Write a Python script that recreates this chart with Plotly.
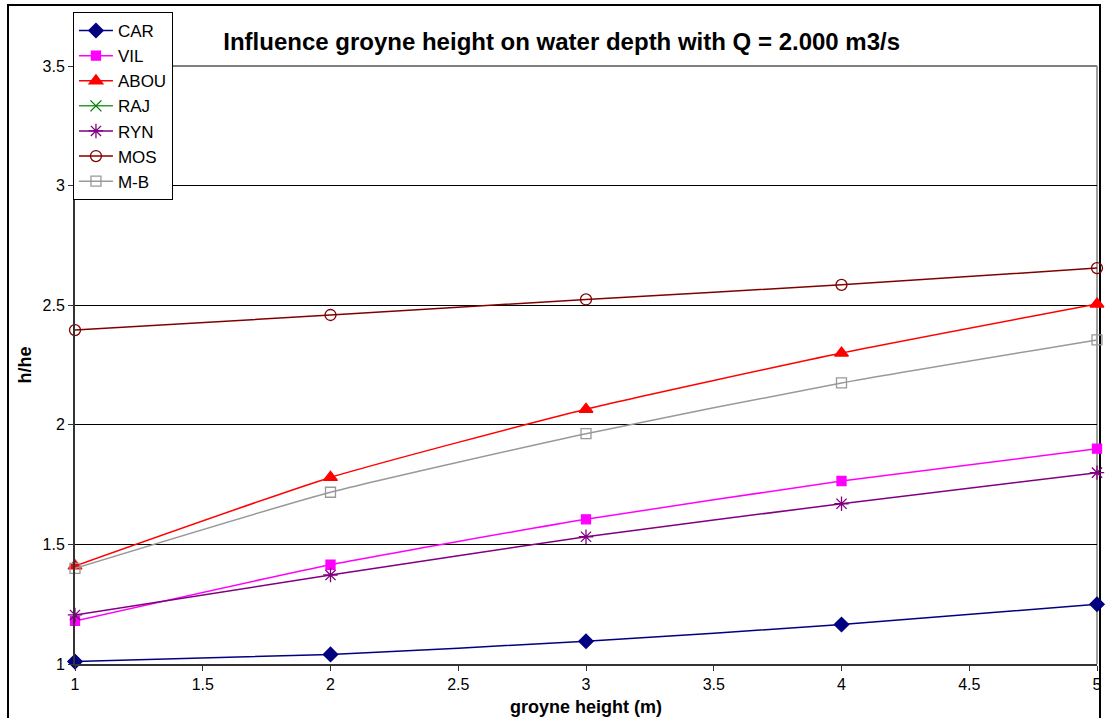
import plotly.graph_objects as go

x_heights = [1, 2, 3, 4, 5]
car = [1.01, 1.04, 1.095, 1.165, 1.25]
vil = [1.18, 1.415, 1.605, 1.765, 1.90]
abou = [1.41, 1.78, 2.065, 2.30, 2.505]
raj = [None, None, None, None, None]
ryn = [1.205, 1.372, 1.532, 1.67, 1.80]
mos = [2.396, 2.459, 2.524, 2.585, 2.655]
mb = [1.40, 1.718, 1.963, 2.175, 2.355]

x_ticks = [1, 1.5, 2, 2.5, 3, 3.5, 4, 4.5, 5]
y_ticks = [1, 1.5, 2, 2.5, 3, 3.5]

FONT = "Arial, Liberation Sans, sans-serif"

series = [
    ("CAR", car, "#000080", "diamond", 11, "#000080"),
    ("VIL", vil, "#FF00FF", "square", 9, "#FF00FF"),
    ("ABOU", abou, "#FF0000", "triangle-up", 12, "#FF0000"),
    ("RAJ", raj, "#339933", "x-thin-open", 11, "#008000"),
    ("RYN", ryn, "#800080", "asterisk-open", 12, "#800080"),
    ("MOS", mos, "#800000", "circle-open", 11, "#800000"),
    ("M-B", mb, "#999999", "square-open", 10, "#999999"),
]

fig = go.Figure()
for name, ys, lc, sym, size, mc in series:
    fig.add_trace(go.Scatter(
        x=x_heights, y=ys, name=name, mode="lines+markers",
        line=dict(color=lc, width=1.5, shape="spline", smoothing=0.5),
        marker=dict(symbol=sym, size=size, color=mc,
                    line=dict(color=mc, width=1.3)),
        cliponaxis=False,
    ))

fig.update_layout(
    width=1110, height=718,
    margin=dict(l=75, r=13, t=66, b=54),
    paper_bgcolor="white", plot_bgcolor="white",
    font=dict(family=FONT, size=14, color="black"),
    title=dict(text="<b>Influence groyne height on water depth with Q = 2.000 m3/s</b>",
               x=0.506, xref="container", xanchor="center",
               y=1 - 42 / 718, yref="container", yanchor="middle",
               font=dict(family=FONT, size=24, color="black")),
    showlegend=True,
    legend=dict(x=-0.002, y=(664 - 12) / 598, xanchor="left", yanchor="top",
                bgcolor="white", bordercolor="black", borderwidth=1,
                font=dict(family=FONT, size=17, color="black"),
                itemwidth=34, tracegroupgap=0),
)

fig.update_xaxes(
    range=[1, 5], tickvals=x_ticks, ticktext=[f"{v:g}" for v in x_ticks],
    showgrid=False, zeroline=False, showline=True, linecolor="#333333", linewidth=2,
    ticks="outside", ticklen=5, tickcolor="#333333", automargin=False,
    title=dict(text="<b>groyne height (m)</b>", font=dict(family=FONT, size=18), standoff=8),
    tickfont=dict(family=FONT, size=16),
)
fig.update_yaxes(
    range=[1, 3.5], tickvals=y_ticks, ticktext=[f"{v:g}" for v in y_ticks],
    showgrid=True, gridcolor="black", gridwidth=1, zeroline=False,
    showline=True, linecolor="#333333", linewidth=2,
    ticks="outside", ticklen=5, tickcolor="#333333", automargin=False,
    title=dict(text="<b>h/he</b>", font=dict(family=FONT, size=18), standoff=6),
    tickfont=dict(family=FONT, size=16),
)

# plot area top/right border (gray) and chart area border (black)
fig.add_shape(type="line", xref="paper", yref="paper", x0=0, x1=1, y0=1, y1=1,
              line=dict(color="#808080", width=2), layer="above")
fig.add_shape(type="line", xref="paper", yref="paper", x0=1, x1=1, y0=0, y1=1,
              line=dict(color="#A0A0A0", width=2), layer="below")
fig.add_shape(type="rect", xref="paper", yref="paper",
              x0=(8 - 75) / 1022, x1=(1100 - 75) / 1022,
              y0=(664 - 730) / 598, y1=(664 - 5) / 598,
              line=dict(color="black", width=2), fillcolor="rgba(0,0,0,0)", layer="below")

fig.write_html("out.html")
